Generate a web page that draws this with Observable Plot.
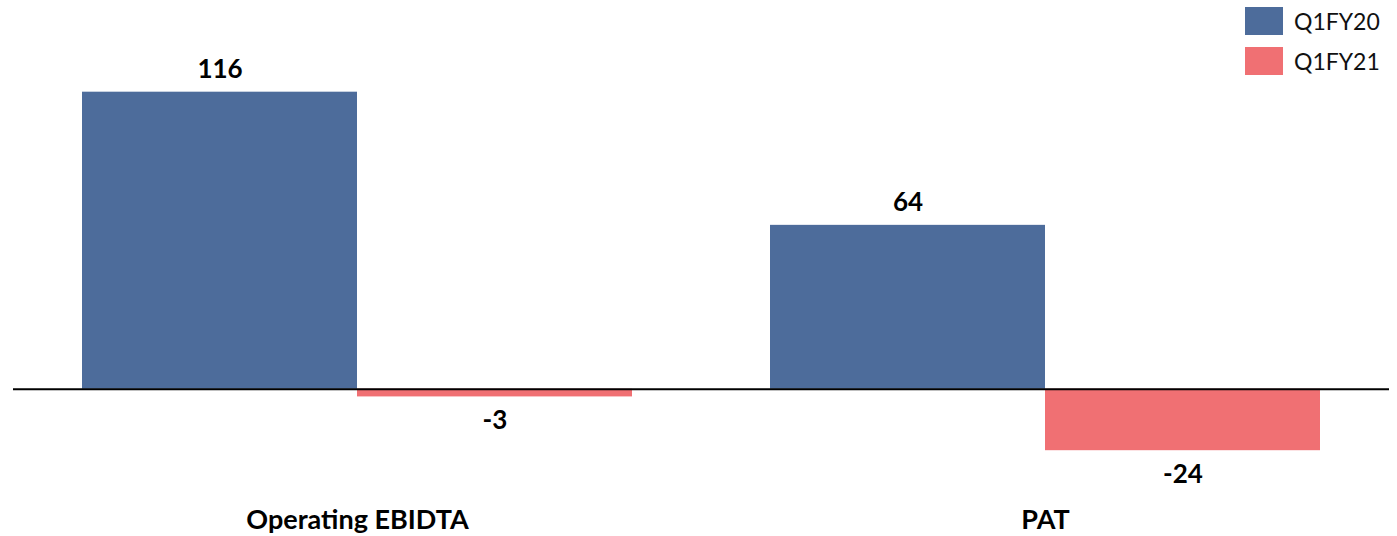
<!DOCTYPE html>
<html>
<head>
<meta charset="utf-8">
<script src="https://cdn.jsdelivr.net/npm/d3@7"></script>
<script src="https://cdn.jsdelivr.net/npm/@observablehq/plot@0.6"></script>
<style>
  html, body { margin: 0; padding: 0; background: #fff; }
  #wrap { position: relative; width: 1397px; height: 536px; }
  #legend { position: absolute; left: 1245px; top: 7px; font-family: Lato, "Open Sans", sans-serif; font-size: 23px; color: #111; }
  .row { display: flex; align-items: center; height: 28px; margin-bottom: 12px; }
  .sw { width: 38px; height: 28px; margin-right: 11px; }
</style>
</head>
<body>
<div id="wrap"><div id="legend"></div></div>
<script>
const categories = ["Operating EBIDTA", "PAT"];
const series = ["Q1FY20", "Q1FY21"];
const q1fy20 = [116, 64];
const q1fy21 = [-3, -24];
const colors = ["#4D6C9B", "#F07073"];

const data = [];
categories.forEach((c, i) => {
  data.push({category: c, series: series[0], value: q1fy20[i]});
  data.push({category: c, series: series[1], value: q1fy21[i]});
});

const labelOpts = {
  fx: "category", x: "series", y: "value",
  text: d => String(d.value),
  lineAnchor: "middle", textAnchor: "middle",
  fontSize: 26, fontWeight: "bold", fill: "#000"
};

const chart = Plot.plot({
  width: 1397,
  height: 536,
  marginLeft: 13,
  marginRight: 8,
  marginTop: 31,
  marginBottom: 20,
  style: {fontFamily: "Lato, 'Open Sans', sans-serif", background: "#fff"},
  fx: {domain: categories, paddingInner: 0, paddingOuter: 0, axis: null},
  x: {domain: series, paddingInner: 0, paddingOuter: 0.25, axis: null},
  y: {domain: [-49.7, 139.7], axis: null},
  color: {domain: series, range: colors},
  marks: [
    Plot.barY(data, {fx: "category", x: "series", y: "value", fill: "series"}),
    Plot.ruleY([0], {stroke: "#000", strokeWidth: 2}),
    Plot.text(data.filter(d => d.value >= 0), {...labelOpts, dy: -23}),
    Plot.text(data.filter(d => d.value < 0), {...labelOpts, dy: 24}),
    Plot.text(categories, {
      fx: d => d, text: d => d, frameAnchor: "bottom", dy: 4,
      lineAnchor: "middle", fontSize: 27, fontWeight: "bold", fill: "#000"
    })
  ]
});

document.getElementById("wrap").prepend(chart);

const legend = document.getElementById("legend");
series.forEach((s, i) => {
  const row = document.createElement("div");
  row.className = "row";
  row.innerHTML = `<div class="sw" style="background:${colors[i]}"></div><span>${s}</span>`;
  legend.appendChild(row);
});
</script>
</body>
</html>
